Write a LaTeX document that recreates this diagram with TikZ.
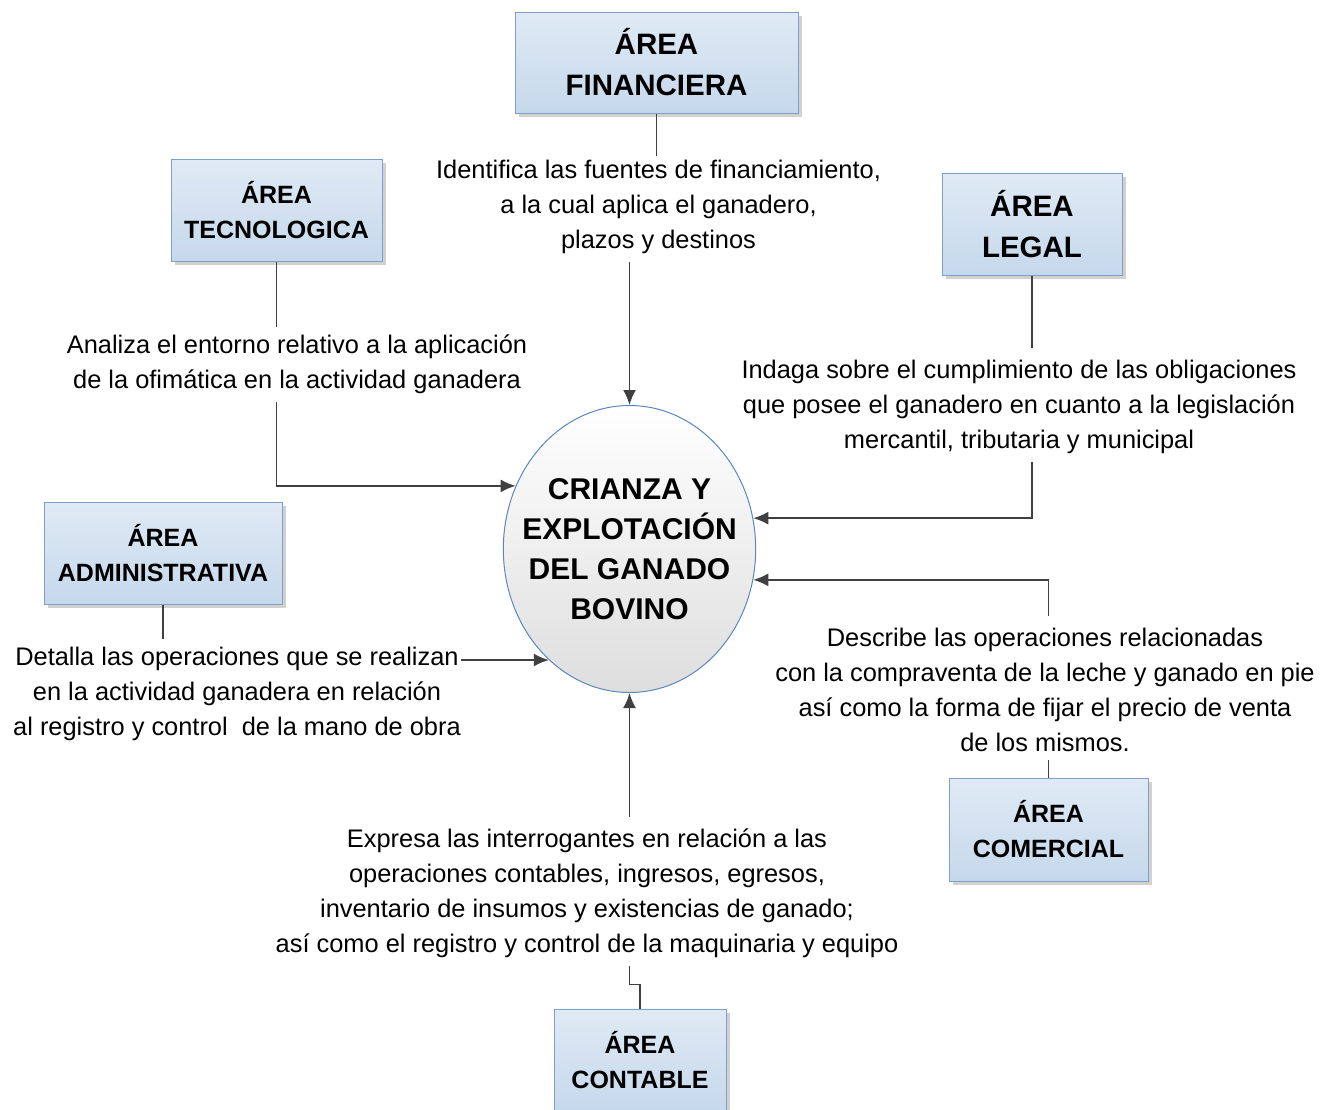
\documentclass[tikz,border=0pt]{standalone}
\usepackage{fontspec}
\setmainfont{Liberation Sans}
\usetikzlibrary{shapes,arrows.meta,positioning,shadows}

\definecolor{boxtop}{HTML}{E0EAF5}
\definecolor{boxbot}{HTML}{C5D8EB}
\definecolor{boxline}{HTML}{7F9FC6}
\definecolor{linegray}{HTML}{404040}
\definecolor{ovalline}{HTML}{5B87BD}

\begin{document}
\begin{tikzpicture}[x=0.5pt,y=-0.5pt,
  areabox/.style={draw=boxline,line width=0.5pt,top color=boxtop,bottom color=boxbot,
    align=center,font=\fontsize{12.5}{17.5}\selectfont\bfseries,
    drop shadow={shadow xshift=2pt,shadow yshift=-2pt,fill=black!30,opacity=0.6}},
  bigarea/.style={areabox,font=\fontsize{14.75}{20.5}\selectfont\bfseries},
  nota/.style={align=center,inner sep=0pt,font=\fontsize{12.7}{17.5}\selectfont},
  link/.style={draw=linegray,line width=0.9pt},
  flow/.style={link,-{Latex[length=7.5pt,width=6.5pt]}}]
\useasboundingbox (0,0) rectangle (1336,1109);

% centre
\node[ellipse,draw=ovalline,line width=0.5pt,top color=white,bottom color=black!13,
  minimum height=143.5pt,inner xsep=-9pt,inner ysep=0pt,align=center,
  font=\fontsize{15}{20}\selectfont\bfseries] (centro) at (629.5,549)
  {CRIANZA Y\\EXPLOTACIÓN\\DEL GANADO\\BOVINO};

% areas
\node[bigarea,minimum width=141.5pt,minimum height=50.5pt] (fin) at (656.5,62.5) {ÁREA\\FINANCIERA};
\node[areabox,minimum width=105.5pt,minimum height=51pt] (tec) at (276.5,210) {ÁREA\\TECNOLOGICA};
\node[bigarea,minimum width=90pt,minimum height=51pt] (leg) at (1032,224) {ÁREA\\LEGAL};
\node[areabox,minimum width=119pt,minimum height=51pt] (adm) at (163,553) {ÁREA\\ADMINISTRATIVA};
\node[areabox,minimum width=99.5pt,minimum height=51.5pt] (com) at (1048.5,829.5) {ÁREA\\COMERCIAL};
\node[areabox,minimum width=86pt,minimum height=51pt] (con) at (640,1060) {ÁREA\\CONTABLE};

% texts
\node[nota] (finTxt) at (658.5,207) {Identifica las fuentes de financiamiento,\\a la cual aplica el ganadero,\\plazos y destinos};
\node[nota] (tecTxt) at (297,364.5) {Analiza el entorno relativo a la aplicación\\de la ofimática en la actividad ganadera};
\node[nota] (legTxt) at (1019,407) {Indaga sobre el cumplimiento de las obligaciones\\que posee el ganadero en cuanto a la legislación\\mercantil, tributaria y municipal};
\node[nota] (admTxt) at (237,694) {Detalla las operaciones que se realizan\\en la actividad ganadera en relación\\al registro y control\ \ de la mano de obra};
\node[nota] (comTxt) at (1045,690) {Describe las operaciones relacionadas\\con la compraventa de la leche y ganado en pie\\así como la forma de fijar el precio de venta\\de los mismos.};
\node[nota] (conTxt) at (587,893.5) {Expresa las interrogantes en relación a las\\operaciones contables, ingresos, egresos,\\inventario de insumos y existencias de ganado;\\así como el registro y control de la maquinaria y equipo};

% connectors
\draw[link] (fin.south) -- ([yshift=2pt]fin.south |- finTxt.north);
\draw[flow] ([yshift=-4pt]centro |- finTxt.south) -- (centro.north);
\draw[link] (tec.south) -- ([yshift=4pt]tec.south |- tecTxt.north);
\draw[flow] ([yshift=-4pt]tec.south |- tecTxt.south) |- (centro.151);
\draw[link] (leg.south) -- ([yshift=6pt]leg.south |- legTxt.north);
\draw[flow] ([yshift=-4pt]leg.south |- legTxt.south) |- (centro.14);
\draw[link] (adm.south) -- ([yshift=4pt]adm.south |- admTxt.north);
\draw[flow] (admTxt.north east |- centro.234) -- (centro.234);
\draw[link] (com.north) -- ([yshift=-4pt]com.north |- comTxt.south);
\draw[flow] ([yshift=6pt]com.north |- comTxt.north) |- (centro.346);
\draw[link] (con.north) -- ++(0,-24) -| ([yshift=-4pt]centro |- conTxt.south);
\draw[flow] ([yshift=6pt]centro |- conTxt.north) -- (centro.south);
\end{tikzpicture}
\end{document}
